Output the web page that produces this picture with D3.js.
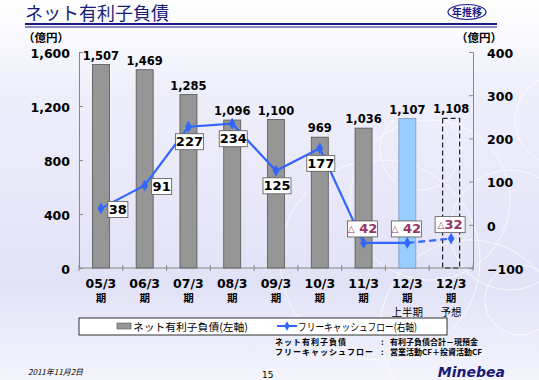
<!DOCTYPE html>
<html>
<head>
<meta charset="utf-8">
<script src="https://cdn.jsdelivr.net/npm/d3@7"></script>
<style>
  body { margin: 0; }
  svg { display: block; font-family: "DejaVu Sans", "Noto Sans CJK JP", sans-serif; }
</style>
</head>
<body>
<div id="chart"></div>
<script>
// dados
const periods = ["05/3", "06/3", "07/3", "08/3", "09/3", "10/3", "11/3", "12/3", "12/3"];
const subLabels = ["", "", "", "", "", "", "", "上半期", "予想"];
const netDebt = [1507, 1469, 1285, 1096, 1100, 969, 1036, 1107, 1108];
const freeCF = [38, 91, 227, 234, 125, 177, -42, -42, -32];
const leftTicks = [0, 400, 800, 1200, 1600];
const rightTicks = [-100, 0, 100, 200, 300, 400];
// posição do rótulo da linha: "r" direita, "b" abaixo, "t" acima
const cfLabelPos = ["r", "r", "b", "b", "b", "b", "t", "t", "t"];

const W = 539, H = 380;
const plot = { left: 79, right: 473, top: 52, bottom: 268 };

const svg = d3.select("#chart").append("svg")
    .attr("width", W).attr("height", H);

// fundo
const defs = svg.append("defs");
const grad = defs.append("linearGradient").attr("id", "bg")
    .attr("x1", 0).attr("y1", 0).attr("x2", 0).attr("y2", 1);
grad.append("stop").attr("offset", "0%").attr("stop-color", "#ffffff");
grad.append("stop").attr("offset", "25%").attr("stop-color", "#eeeefb");
grad.append("stop").attr("offset", "75%").attr("stop-color", "#e2e2f7");
grad.append("stop").attr("offset", "100%").attr("stop-color", "#f4f4fc");
svg.append("rect").attr("width", W).attr("height", H).attr("fill", "url(#bg)");

// círculos decorativos
const circles = [[560, 120, 45], [510, 230, 60], [430, 200, 80], [470, 330, 90], [380, 260, 100], [520, 300, 35], [420, 150, 40]];
svg.append("g").selectAll("circle").data(circles).enter().append("circle")
    .attr("cx", d => d[0]).attr("cy", d => d[1]).attr("r", d => d[2])
    .attr("fill", "none").attr("stroke", "#ffffff").attr("stroke-opacity", 0.7).attr("stroke-width", 1);

// título
svg.append("text").attr("x", 25).attr("y", 20)
    .attr("fill", "#1a1a78").style("font-size", "18px")
    .style("font-family", "'Noto Sans CJK JP', sans-serif")
    .text("ネット有利子負債");
svg.append("line").attr("x1", 25).attr("x2", 497).attr("y1", 24).attr("y2", 24)
    .attr("stroke", "#1a1a8a").attr("stroke-width", 2);
svg.append("line").attr("x1", 25).attr("x2", 497).attr("y1", 27).attr("y2", 27)
    .attr("stroke", "#1a1a8a").attr("stroke-width", 1);
svg.append("ellipse").attr("cx", 467).attr("cy", 12).attr("rx", 19).attr("ry", 7.5)
    .attr("fill", "#ffffff").attr("stroke", "#1a1a8a").attr("stroke-width", 1.2);
svg.append("text").attr("x", 467).attr("y", 16).attr("text-anchor", "middle")
    .attr("fill", "#1a1a8a").style("font-size", "10px").style("font-weight", "bold")
    .style("font-family", "'Noto Sans CJK JP', sans-serif")
    .text("年推移");

// unidades
svg.append("text").attr("x", 23).attr("y", 42).style("font-size", "11.5px").style("font-weight", "bold")
    .style("font-family", "'Noto Sans CJK JP', sans-serif").text("（億円）");
svg.append("text").attr("x", 456).attr("y", 42).style("font-size", "11.5px").style("font-weight", "bold")
    .style("font-family", "'Noto Sans CJK JP', sans-serif").text("（億円）");

// escalas
const xStep = (plot.right - plot.left) / periods.length;
const cx = i => plot.left + xStep * (i + 0.5);
const yL = d3.scaleLinear().domain([0, 1600]).range([plot.bottom, plot.top]);
const yR = d3.scaleLinear().domain([-100, 400]).range([plot.bottom, plot.top]);

// eixos
const axL = svg.append("g").attr("transform", `translate(${plot.left},0)`)
    .call(d3.axisLeft(yL).tickValues(leftTicks).tickFormat(d3.format(",")).tickSize(-4).tickPadding(9));
const axR = svg.append("g").attr("transform", `translate(${plot.right},0)`)
    .call(d3.axisRight(yR).tickValues(rightTicks).tickSize(-4).tickPadding(14));
[axL, axR].forEach(a => {
    a.select(".domain").attr("stroke", "#888");
    a.selectAll(".tick line").attr("stroke", "#888");
    a.selectAll("text").style("font-size", "12.5px").style("font-weight", "bold")
        .style("font-family", "'DejaVu Sans', sans-serif").attr("fill", "#000");
});
axL.selectAll("text").attr("dy", "0.42em");
axR.selectAll("text").attr("dy", "0.42em");

// eixo x
svg.append("line").attr("x1", plot.left).attr("x2", plot.right)
    .attr("y1", plot.bottom).attr("y2", plot.bottom).attr("stroke", "#888");
svg.append("g").selectAll("line").data(d3.range(periods.length + 1)).enter().append("line")
    .attr("x1", i => plot.left + xStep * i).attr("x2", i => plot.left + xStep * i)
    .attr("y1", plot.bottom - 3).attr("y2", plot.bottom + 3).attr("stroke", "#888");

const xl = svg.append("g").style("font-weight", "bold");
xl.selectAll("text.p").data(periods).enter().append("text").attr("class", "p")
    .attr("x", (d, i) => cx(i)).attr("y", 288).attr("text-anchor", "middle")
    .style("font-size", "12.5px").text(d => d);
xl.selectAll("text.k").data(periods).enter().append("text").attr("class", "k")
    .attr("x", (d, i) => cx(i)).attr("y", 302).attr("text-anchor", "middle")
    .style("font-size", "10.5px").style("font-family", "'Noto Sans CJK JP', sans-serif").text("期");
xl.selectAll("text.s").data(subLabels).enter().append("text").attr("class", "s")
    .attr("x", (d, i) => cx(i)).attr("y", 316).attr("text-anchor", "middle")
    .style("font-size", "10.5px").style("font-weight", "normal")
    .style("font-family", "'Noto Sans CJK JP', sans-serif").text(d => d);

// barras
const bw = 17;
svg.append("g").selectAll("rect").data(netDebt).enter().append("rect")
    .attr("x", (d, i) => cx(i) - bw / 2)
    .attr("y", d => yL(d))
    .attr("width", bw)
    .attr("height", d => yL(0) - yL(d))
    .attr("fill", (d, i) => i === 7 ? "#99ccff" : i === 8 ? "none" : "#969696")
    .attr("stroke", (d, i) => i === 7 ? "#7799bb" : i === 8 ? "#222" : "#555")
    .attr("stroke-width", (d, i) => i === 8 ? 1.2 : 0.8)
    .attr("stroke-dasharray", (d, i) => i === 8 ? "5,3" : null);

svg.append("g").selectAll("text").data(netDebt).enter().append("text")
    .attr("x", (d, i) => cx(i)).attr("y", d => yL(d) - 5)
    .attr("text-anchor", "middle").style("font-size", "11.5px").style("font-weight", "bold")
    .text(d => d3.format(",")(d));

// linha do fluxo de caixa
const line = d3.line().x((d, i) => cx(i)).y(d => yR(d));
svg.append("path").datum(freeCF.slice(0, 8))
    .attr("d", line).attr("fill", "none").attr("stroke", "#3366ff").attr("stroke-width", 2.2);
svg.append("path").datum(freeCF.slice(7))
    .attr("d", d3.line().x((d, i) => cx(i + 7)).y(d => yR(d)))
    .attr("fill", "none").attr("stroke", "#3366ff").attr("stroke-width", 2.2)
    .attr("stroke-dasharray", "7,4");
svg.append("g").selectAll("path").data(freeCF).enter().append("path")
    .attr("d", d3.symbol(d3.symbolDiamond, 40))
    .attr("transform", (d, i) => `translate(${cx(i)},${yR(d)})`)
    .attr("fill", "#3366ff");

// rótulos da linha
const lbl = svg.append("g");
freeCF.forEach((v, i) => {
    const px = cx(i), py = yR(v);
    const neg = v < 0;
    const w = neg ? 30 : (String(v).length > 2 ? 28 : 20);
    const h = 16;
    let bx, by;
    if (cfLabelPos[i] === "r") { bx = px + 7; by = py - 7; }
    else if (cfLabelPos[i] === "b") { bx = px - w / 2 + 1; by = py + 7; }
    else { bx = px - w / 2 - 1; by = py - 22; }
    lbl.append("rect").attr("x", bx).attr("y", by).attr("width", w).attr("height", h)
        .attr("fill", "#fff").attr("stroke", "#555").attr("stroke-width", 0.8);
    const t = lbl.append("text").attr("x", bx + w / 2).attr("y", by + 12.5)
        .attr("text-anchor", "middle").style("font-weight", "bold").style("font-size", "13px")
        .attr("fill", neg ? "#993366" : "#000");
    if (neg) {
        t.append("tspan").style("font-size", "9px").attr("dy", -1).text("△");
        t.append("tspan").attr("dy", 1).text((i === 8 ? "" : " ") + Math.abs(v));
    } else {
        t.text(v);
    }
});

// legenda
const lg = svg.append("g");
lg.append("rect").attr("x", 79).attr("y", 318).attr("width", 368).attr("height", 17)
    .attr("fill", "#fff").attr("stroke", "#000").attr("stroke-width", 0.8);
lg.append("rect").attr("x", 117).attr("y", 323).attr("width", 14).attr("height", 6)
    .attr("fill", "#969696").attr("stroke", "#555").attr("stroke-width", 0.6);
lg.append("text").attr("x", 133).attr("y", 331).style("font-size", "10.5px")
    .attr("textLength", 115).attr("lengthAdjust", "spacingAndGlyphs")
    .style("font-family", "'Noto Sans CJK JP', sans-serif").text("ネット有利子負債(左軸)");
lg.append("line").attr("x1", 277).attr("x2", 297).attr("y1", 326).attr("y2", 326)
    .attr("stroke", "#3366ff").attr("stroke-width", 2);
lg.append("path").attr("d", d3.symbol(d3.symbolDiamond, 25)).attr("transform", "translate(287,326)")
    .attr("fill", "#3366ff");
lg.append("text").attr("x", 298).attr("y", 331).style("font-size", "10.5px")
    .attr("textLength", 119).attr("lengthAdjust", "spacingAndGlyphs")
    .style("font-family", "'Noto Sans CJK JP', sans-serif").text("フリーキャッシュフロー(右軸)");

// notas
const notes = [["ネット有利子負債", "有利子負債合計－現預金"], ["フリーキャッシュフロー", "営業活動CF＋投資活動CF"]];
const nt = svg.append("g").style("font-size", "8px").style("font-weight", "bold")
    .style("font-family", "'Noto Sans CJK JP', sans-serif");
notes.forEach((n, i) => {
    nt.append("text").attr("x", 275).attr("y", 345 + i * 10).style("letter-spacing", "1px").text(n[0]);
    nt.append("text").attr("x", 381).attr("y", 345 + i * 10).text(":");
    nt.append("text").attr("x", 390).attr("y", 345 + i * 10).text(n[1]);
});

// rodapé
svg.append("text").attr("x", 28).attr("y", 375).style("font-size", "8px").style("font-style", "italic")
    .style("font-family", "'Noto Sans CJK JP', sans-serif").text("2011年11月2日");
svg.append("text").attr("x", 262).attr("y", 378).style("font-size", "9px").text("15");
svg.append("text").attr("x", 505).attr("y", 377).attr("text-anchor", "end")
    .style("font-size", "14px").style("font-weight", "bold").style("font-style", "italic")
    .attr("fill", "#1a1a78").text("Minebea");
</script>
</body>
</html>
